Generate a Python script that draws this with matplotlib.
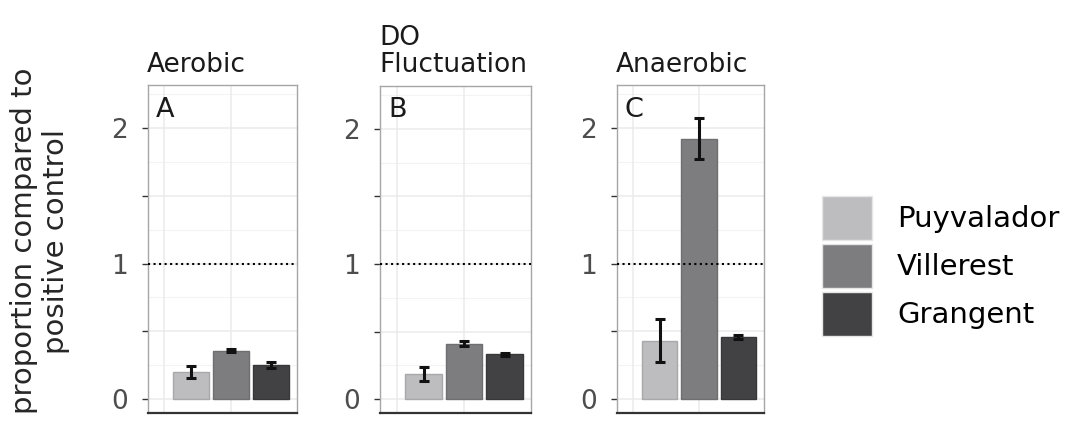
import matplotlib.pyplot as plt
from matplotlib.patches import Patch

# Datos
sitios = ['Puyvalador', 'Villerest', 'Grangent']
colores = ['#bdbdc0', '#7d7d80', '#424244']
condiciones = ['Aerobic', 'DO\nFluctuation', 'Anaerobic']
letras = ['A', 'B', 'C']

aerobic = [0.20, 0.357, 0.253]
aerobic_err = [0.042, 0.010, 0.023]
do_fluct = [0.185, 0.41, 0.33]
do_fluct_err = [0.054, 0.017, 0.008]
anaerobic = [0.43, 1.92, 0.46]
anaerobic_err = [0.157, 0.15, 0.015]

medias = [aerobic, do_fluct, anaerobic]
errores = [aerobic_err, do_fluct_err, anaerobic_err]

y_ticks = [0, 0.5, 1, 1.5, 2]
y_ticklabels = ['0', '', '1', '', '2']
y_minor = [0.25, 0.75, 1.25, 1.75, 2.25]

W, H = 1066, 423
fig = plt.figure(figsize=(W / 100, H / 100), dpi=100)

# posiciones de los paneles en pixeles (izq, der, arriba, abajo)
paneles = [(148, 297, 85, 413), (380, 531, 86, 413), (617, 764, 85, 413)]

for k, (x0, x1, top, bot) in enumerate(paneles):
    ax = fig.add_axes([x0 / W, 1 - bot / H, (x1 - x0) / W, (bot - top) / H])
    ax.set_xlim(0.376, 1.496)
    ax.set_ylim(-0.103, 2.317)

    for y in y_minor:
        ax.axhline(y, color='#f3f3f3', lw=0.8, zorder=0)
    for y in y_ticks:
        ax.axhline(y, color='#ebebeb', lw=1.1, zorder=0)
    for x in [0.5, 1.0]:
        ax.axvline(x, color='#ebebeb', lw=1.1, zorder=0)

    pos = [1 + (i - 1) * 0.3 for i in range(3)]
    ax.bar(pos, medias[k], width=0.27, color=colores,
           edgecolor=['#a8a8aa', '#6e6e70', '#38383a'], lw=1, zorder=2)
    ax.errorbar(pos, medias[k], yerr=errores[k], fmt='none', ecolor='#111111',
                elinewidth=2.2, capsize=3.5, capthick=2.2, zorder=3)
    ax.axhline(1, color='black', ls=':', lw=1.5, zorder=4)

    ax.set_yticks(y_ticks)
    ax.set_yticklabels(y_ticklabels)
    ax.set_xticks([])
    ax.tick_params(axis='y', length=4.3, width=1, color='#333333', pad=10,
                   labelsize=19, labelcolor='#4d4d4d')
    for s in ['top', 'left', 'right']:
        ax.spines[s].set_color('#a6a6a6')
        ax.spines[s].set_linewidth(1.0)
    ax.spines['bottom'].set_color('#333333')
    ax.spines['bottom'].set_linewidth(1.6)

    # letra del panel
    fig.text((x0 + 8) / W, 1 - 117 / H, letras[k], fontsize=19.5,
             color='#1a1a1a', ha='left', va='baseline')

    # titulo del panel
    lineas = condiciones[k].split('\n')
    for j, linea in enumerate(reversed(lineas)):
        fig.text((x0 - 1) / W, 1 - (72 - j * 27) / H, linea, fontsize=19,
                 color='#1a1a1a', ha='left', va='baseline')

fig.text(40 / W, 1 - 241 / H, 'proportion compared to\npositive control',
         rotation=90, fontsize=21, color='#262626', ha='center', va='center',
         multialignment='center', linespacing=1.2)

handles = [Patch(facecolor=c, edgecolor='#e6e6e6') for c in colores]
fig.legend(handles, sitios, loc='upper left', bbox_to_anchor=(822 / W, 1 - 196 / H),
           frameon=False, fontsize=21, handlelength=1.71, handleheight=1.944,
           labelspacing=0.14, handletextpad=0.86, borderpad=0, borderaxespad=0)

fig.savefig('out.png', dpi=100)
